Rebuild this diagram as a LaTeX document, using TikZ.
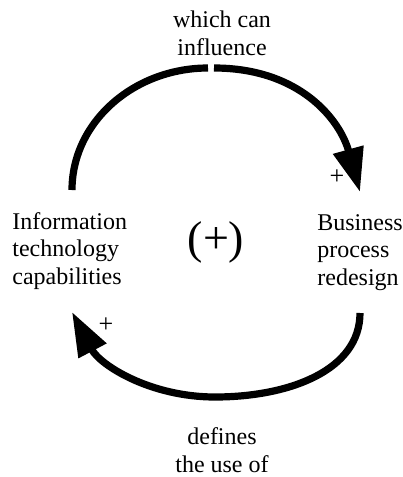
\documentclass[tikz,border=0pt]{standalone}
\usepackage{fontspec}
\setmainfont{Liberation Serif}
\usetikzlibrary{arrows.meta}

\begin{document}
\begin{tikzpicture}[x=0.5pt,y=-0.5pt,
	varlabel/.style={font=\fontsize{12}{13.75}\selectfont, inner sep=0pt},
	loopsign/.style={font=\fontsize{23}{23}\selectfont, inner sep=0pt},
	linksign/.style={font=\fontsize{13}{13}\selectfont, inner sep=0pt},
	link/.style={line width=3.6pt},
	headed/.style={-{Triangle[length=22pt,width=15pt]}}]
	\useasboundingbox (0,0) rectangle (402,477);
	
	% the two variables (base = last line)
	\node[varlabel, align=left, anchor=base west] (itc) at (12,284) {Information\\technology\\capabilities};
	\node[varlabel, align=left, anchor=base west] (bpr) at (317,285) {Business\\process\\redesign};
	\node[loopsign] (loop) at (216,242) {(+)};
	
	% ends of the links
	\coordinate (itc-out) at (72,190);
	\coordinate (gap-w) at (208,68);
	\coordinate (gap-e) at (214,68);
	\coordinate (bpr-in) at (360,192);
	\coordinate (bpr-out) at (360,313);
	\coordinate (low) at (215,397);
	\coordinate (itc-in) at (72,312);
	
	% upper link
	\draw[link] (itc-out) .. controls (72,122) and (134,68) .. (gap-w);
	\draw[link,headed] (gap-e) .. controls (300,68) and (340,120) .. (bpr-in);
	\node[varlabel, align=center, anchor=base] (up-text) at (222,55) {which can\\influence};
	\node[linksign] (up-sign) at (337,177) {+};
	
	% lower link
	\draw[link,headed] (bpr-out) .. controls (360,370) and (290,397) .. (low)
		.. controls (150,397) and (100,365) .. (itc-in);
	\node[varlabel, align=center, anchor=base] (low-text) at (222,472) {defines\\the use of};
	\node[linksign] (low-sign) at (106,325) {+};
\end{tikzpicture}
\end{document}
